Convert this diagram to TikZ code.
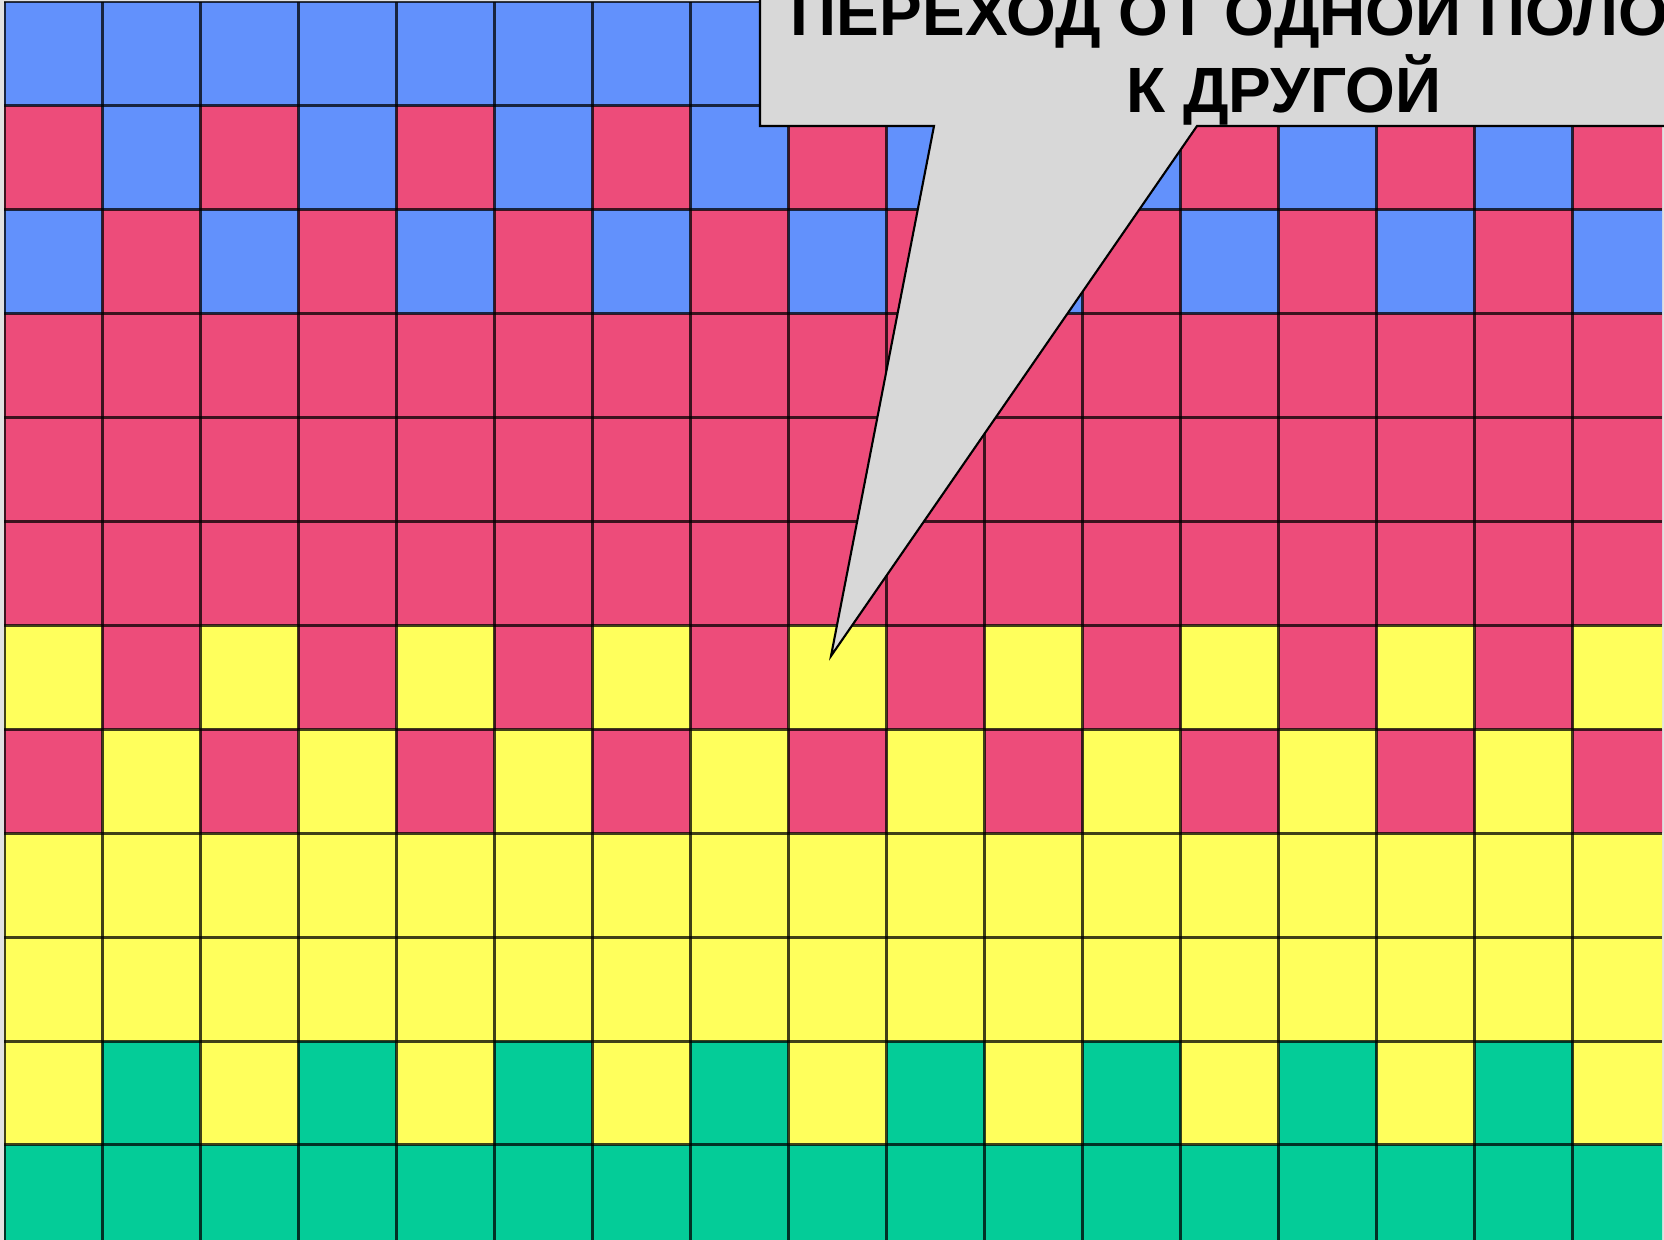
\documentclass[tikz,border=0pt]{standalone}
\usepackage{fontspec}
\setmainfont{Liberation Sans}
\usetikzlibrary{calc}
\definecolor{stripblue}{RGB}{98,145,252}
\definecolor{stripred}{RGB}{237,76,122}
\definecolor{stripyellow}{RGB}{255,255,92}
\definecolor{stripgreen}{RGB}{4,204,152}
\definecolor{calloutgray}{RGB}{216,216,216}
\definecolor{pagegray}{RGB}{226,226,226}

\begin{document}
\begin{tikzpicture}[
  x=0.01cm, y=-0.01cm,
  every node/.style={font=\bfseries\fontsize{18.2}{21}\selectfont, inner sep=0pt},
  gridline/.style={draw=black, opacity=0.75, line width=0.03cm},
  callout/.style={fill=calloutgray, draw=black, line width=0.6pt, line join=miter},
]
  \useasboundingbox (0,0) rectangle (1664,1240);
  \clip (0,0) rectangle (1664,1240);
  \fill[pagegray] (0,0) rectangle (1664,1240);

  % cells, row by row: colour of even column / odd column
  \begin{scope}
    \clip (4,2) rectangle (1662,1240);
    \foreach \r/\ce/\co in {0/stripblue/stripblue, 1/stripred/stripblue, 2/stripblue/stripred,
        3/stripred/stripred, 4/stripred/stripred, 5/stripred/stripred,
        6/stripyellow/stripred, 7/stripred/stripyellow, 8/stripyellow/stripyellow,
        9/stripyellow/stripyellow, 10/stripyellow/stripgreen, 11/stripgreen/stripgreen} {
      \foreach \c in {0,...,16} {
        \ifodd\c \def\cc{\co}\else \def\cc{\ce}\fi
        \fill[\cc] ({4+\c*98.06},{2+\r*103.9}) rectangle ++(98.06,103.9);
      }
    }
    \foreach \c in {0,...,16}
      \draw[gridline] ({4+\c*98.06},2) -- ({4+\c*98.06},1240);
    \foreach \r in {0,...,11}
      \draw[gridline] (4,{2+\r*103.9}) -- (1662,{2+\r*103.9});
  \end{scope}

  % callout
  \coordinate (tip) at (831,656);
  \draw[callout] (760,-20) -- (760,126) -- (934,126) -- (tip) -- (1197,126)
    -- (1720,126) -- (1720,-20) -- cycle;
  \node[anchor=base] (title1) at (1284,36) {ПЕРЕХОД ОТ ОДНОЙ ПОЛОСЫ};
  \node[anchor=base] (title2) at (1284,113) {К ДРУГОЙ};
\end{tikzpicture}
\end{document}
